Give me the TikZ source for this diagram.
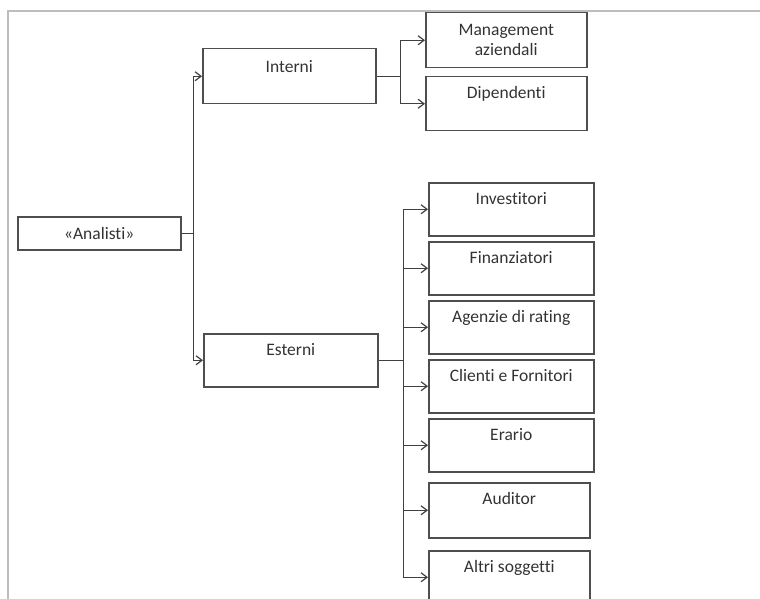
\documentclass[tikz,border=0pt]{standalone}
\usepackage{fontspec}
\setmainfont{Carlito}[Ligatures=NoCommon]
\usetikzlibrary{arrows.meta}
\definecolor{frameline}{HTML}{BDBDBD}
\definecolor{boxline}{HTML}{4E4E4E}
\definecolor{wire}{HTML}{404040}
\definecolor{ink}{HTML}{333333}
\begin{document}
\begin{tikzpicture}[x=1pt,y=-1pt,
  every node/.style={font=\fontsize{17.5}{20}\selectfont, text=ink},
  % box with its label set near the top edge
  topbox/.style={draw=boxline, line width=1.5pt, anchor=north west,
    inner xsep=0pt, inner ysep=0pt, minimum width=#1,
    text height=22pt, text depth=31pt},
  % box with its label centred
  midbox/.style={draw=boxline, line width=1.5pt, anchor=north west,
    inner sep=0pt, align=center, minimum width=#1},
  arr/.style={draw=wire, line width=1.4pt,
    -{Straight Barb[length=6pt,width=9pt,line width=1.2pt]}},
  wireline/.style={draw=wire, line width=1.4pt}]
\useasboundingbox (0,0) rectangle (760,599);
\clip (0,0) rectangle (760,599);

% outer frame
\draw[frameline, line width=1.8pt] (8,599) -- (8,11) -- (760,11);

% root
\node[midbox=163pt, minimum height=33pt] (ana) at (17,216) {«Analisti»};

% first level
\node[topbox=173pt, text height=24pt, text depth=31pt] (int) at (202,48) {Interni};
\node[topbox=174pt] (est) at (203,333) {Esterni};

% internal analysts
\node[midbox=161pt, minimum height=55pt] (mgm) at (425,12) {Management\\aziendali};
\node[topbox=161pt, text height=22pt, text depth=32pt] (dip) at (425,76) {Dipendenti};

% external analysts
\node[topbox=165pt] (inv) at (428,182) {Investitori};
\node[topbox=165pt] (fin) at (428,241) {Finanziatori};
\node[topbox=165pt] (age) at (428,300) {Agenzie di rating};
\node[topbox=165pt] (cli) at (428,359) {Clienti e Fornitori};
\node[topbox=165pt] (era) at (428,418) {Erario};
\node[topbox=161pt, text height=22pt, text depth=33pt] (aud) at (428,482) {Auditor};
\node[topbox=161pt] (alt) at (428,550) {Altri soggetti};

% connectors from the root
\draw[wireline] (ana.east) -- ++(12,0) coordinate (j1);
\draw[arr] (j1) |- (int.west);
\draw[arr] (j1) |- (est.west);

% connectors from Interni
\draw[wireline] (int.east) -- ++(24,0) coordinate (j2);
\draw[arr] (j2) |- (mgm.west);
\draw[arr] (j2) |- (dip.west);

% connectors from Esterni
\draw[wireline] (est.east) -- ++(25,0) coordinate (j3);
\foreach \t in {inv,fin,age,cli,era,aud,alt}
  \draw[arr] (j3) |- (\t.west);
\end{tikzpicture}
\end{document}
